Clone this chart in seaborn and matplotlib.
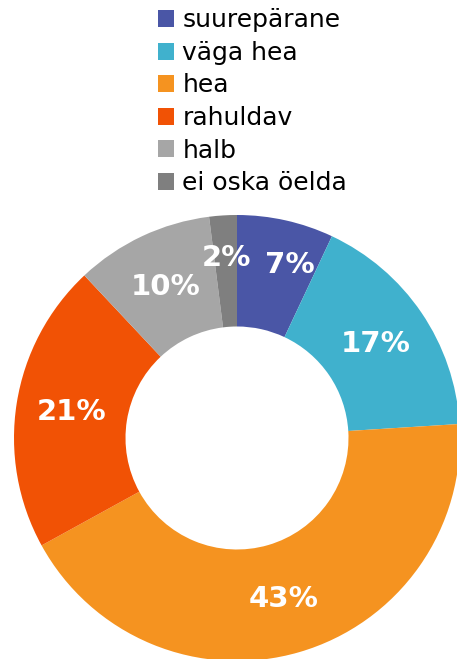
import matplotlib
matplotlib.use('Agg')
import matplotlib.pyplot as plt
import seaborn as sns
from matplotlib.patches import Patch

sns.set_theme(style='white')
plt.rcParams['font.family'] = ['DejaVu Sans']

# --- data ---
categories = ['suurepärane', 'väga hea', 'hea', 'rahuldav', 'halb', 'ei oska öelda']
values = [7, 17, 43, 21, 10, 2]
colors = ['#4A56A6', '#40B1CD', '#F59320', '#F15205', '#A6A6A6', '#7F7F7F']

W, H = 457, 659
fig = plt.figure(figsize=(W / 100, H / 100), dpi=100)

# donut centred at (237, 438) px, outer radius 223 px
cx, cy, r = 237, 438, 223
ax = fig.add_axes([(cx - r) / W, (H - cy - r) / H, 2 * r / W, 2 * r / H])
wedges, texts, autotexts = ax.pie(
    values, colors=colors, startangle=90, counterclock=False,
    radius=1, wedgeprops=dict(width=0.5, linewidth=0),
    autopct='%.0f%%', pctdistance=0.75,
    textprops=dict(color='white', fontsize=21, fontweight='bold'))
ax.set_xlim(-1, 1)
ax.set_ylim(-1, 1)
ax.set_aspect('auto')
ax.axis('off')

# small nudges so the two narrow labels do not collide
x, y = autotexts[5].get_position()
autotexts[5].set_position((x, y + 0.06))
x, y = autotexts[0].get_position()
autotexts[0].set_position((x + 0.075, y + 0.045))

handles = [Patch(facecolor=c, edgecolor='none') for c in colors]
leg = fig.legend(handles, categories, loc='upper left',
                 bbox_to_anchor=(140 / W, 1 + 9 / H), frameon=False,
                 fontsize=18, handlelength=0.65, handleheight=0.65,
                 handletextpad=0.35, labelspacing=0.34, borderpad=0.2)
for t in leg.get_texts():
    t.set_color('black')

fig.savefig('out.png', dpi=100)
